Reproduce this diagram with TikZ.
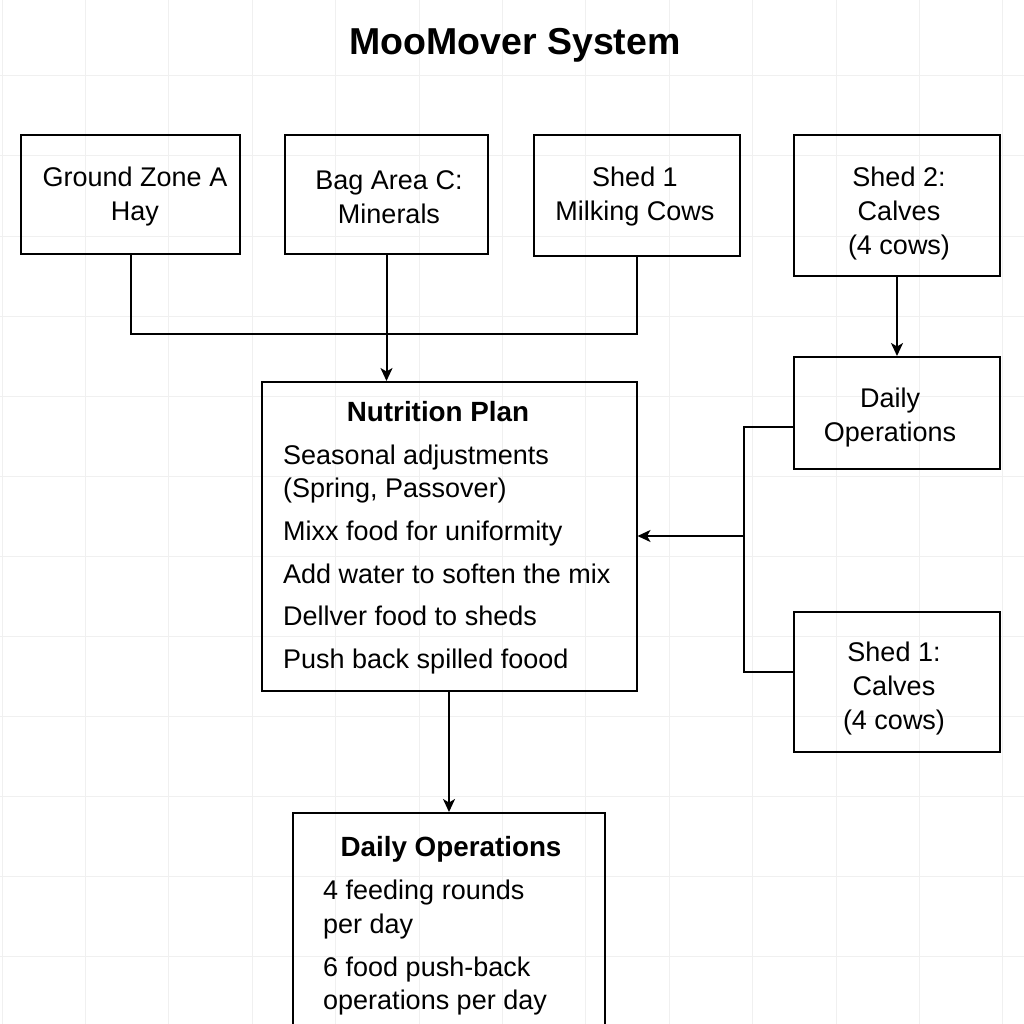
\documentclass[tikz,border=0pt]{standalone}
\usepackage{fontspec}
\setmainfont{Liberation Sans}
\usetikzlibrary{arrows.meta}
\newcommand{\bodyfont}{\fontsize{27}{34}\selectfont}
\newcommand{\headfont}{\fontsize{27.8}{34}\selectfont\bfseries}
\tikzset{
  box/.style={draw, line width=2pt, inner sep=0pt},
  boxtext/.style={align=center, inner sep=0pt, font=\bodyfont},
  item/.style={inner sep=0pt, font=\bodyfont, anchor=base west},
  head/.style={inner sep=0pt, font=\headfont, anchor=base},
  link/.style={line width=2pt},
  arrow/.style={link, -{Stealth[length=13pt,width=12pt,inset=3.5pt]}},
  gridline/.style={draw=black!6, line width=1pt},
}
\begin{document}
\begin{tikzpicture}[x=1pt, y=-1pt]
\useasboundingbox (0,0) rectangle (1024,1024);
% background grid
\foreach \k in {0,...,12}
  \draw[gridline] (2+83.4*\k,0) -- (2+83.4*\k,1024);
\foreach \k in {0,...,11}
  \draw[gridline] (0,76+80*\k) -- (1024,76+80*\k);

\node[inner sep=0pt, font=\fontsize{37.5}{40}\selectfont\bfseries] (title) at (515,45) {MooMover System};

% top row
\node[box, minimum width=219pt, minimum height=119pt] (zonea) at (130.5,194.5) {};
\node[boxtext] (zoneatext) at (135,197) {Ground Zone A\\Hay};
\node[box, minimum width=203pt, minimum height=119pt] (bagc) at (386.5,194.5) {};
\node[boxtext] (bagctext) at (389,197) {Bag Area C:\\Minerals};
\node[box, minimum width=206pt, minimum height=121pt] (shedm) at (637,195.5) {};
\node[boxtext] (shedmtext) at (635,197) {Shed 1\\Milking Cows};
\node[box, minimum width=206pt, minimum height=141pt] (shedtwo) at (897,205.5) {};
\node[boxtext] (shedtwotext) at (899,214) {Shed 2:\\Calves\\(4 cows)};

% right column
\node[box, minimum width=206pt, minimum height=112pt] (daily) at (897,413) {};
\node[boxtext] (dailytext) at (890,418) {Daily\\Operations};
\node[box, minimum width=206pt, minimum height=140pt] (shedone) at (897,682) {};
\node[boxtext] (shedonetext) at (894,689) {Shed 1:\\Calves\\(4 cows)};

% nutrition plan
\node[box, minimum width=375pt, minimum height=309pt] (np) at (449,536.5) {};
\node[head] (nptitle) at (438,421) {Nutrition Plan};
\foreach \yy/\txt [count=\i] in {464/Seasonal adjustments, 497/{(Spring, Passover)},
    540/Mixx food for uniformity, 583/Add water to soften the mix,
    625/Dellver food to sheds, 668/Push back spilled foood}
  \node[item] (npitem\i) at (283,\yy) {\txt};

% daily operations
\node[box, minimum width=312pt, minimum height=240pt] (ops) at (449,933) {};
\node[head] (opstitle) at (451,856) {Daily Operations};
\foreach \yy/\txt [count=\i] in {899/4 feeding rounds, 933/per day,
    976/6 food push-back, 1009/operations per day}
  \node[item] (opsitem\i) at (323,\yy) {\txt};

% connectors
\coordinate (bus) at (744,536);
\draw[link] (zonea.south) -- ++(0,79) -| (shedm.south);
\draw[arrow] (bagc.south) -- (bagc.south |- np.north);
\draw[arrow] (shedtwo.south) -- (daily.north);
\draw[link] ([yshift=-14pt]daily.west) -| (bus) |- ([yshift=10pt]shedone.west);
\draw[arrow] (bus) -- (bus -| np.east);
\draw[arrow] (np.south) -- (ops.north);
\end{tikzpicture}
\end{document}
